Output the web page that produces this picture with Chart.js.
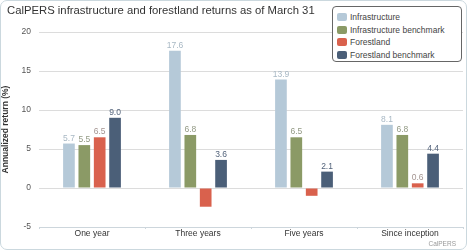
<!DOCTYPE html>
<html>
<head>
<meta charset="utf-8">
<script src="https://cdn.jsdelivr.net/npm/chart.js@4/dist/chart.umd.min.js"></script>
<style>
  html, body { margin: 0; padding: 0; background: #fff; }
  #wrap {
    position: relative; width: 467px; height: 250px; box-sizing: border-box;
    border: 1px solid #cbd8de; border-radius: 7px; overflow: hidden; background: #fff;
    font-family: "Liberation Sans", Arial, sans-serif;
  }
  #chart { position: absolute; left: 0; top: 0; }
  #title {
    position: absolute; left: 6px; top: 3px; font-size: 11.3px; color: #333; white-space: nowrap;
  }
  #legend {
    position: absolute; left: 331px; top: 5px; width: 130px; height: 56px; box-sizing: border-box;
    border: 1px solid #666; border-radius: 4px; background: #fff; padding: 4px 0 0 4px;
  }
  .item { display: flex; align-items: center; height: 12.5px; font-size: 8.5px; color: #444; white-space: nowrap; }
  .sw { width: 10px; height: 8px; border-radius: 2px; margin-right: 3px; }
  #credit { position: absolute; right: 10px; bottom: 2px; font-size: 6.5px; color: #999; }
</style>
</head>
<body>
<div id="wrap">
  <canvas id="chart" width="467" height="250"></canvas>
  <div id="title">CalPERS infrastructure and forestland returns as of March 31</div>
  <div id="legend"></div>
  <div id="credit">CalPERS</div>
</div>
<script>
const categories = ['One year', 'Three years', 'Five years', 'Since inception'];
const seriesNames = ['Infrastructure', 'Infrastructure benchmark', 'Forestland', 'Forestland benchmark'];
const infrastructure = [5.7, 17.6, 13.9, 8.1];
const infrastructureBenchmark = [5.5, 6.8, 6.5, 6.8];
const forestland = [6.5, -2.4, -1.0, 0.6];
const forestlandBenchmark = [9.0, 3.6, 2.1, 4.4];
const colors = ['#b5c9d8', '#8b9a66', '#d9614d', '#4b5f78'];
const labelColors = ['#a8b8c4', '#939a85', '#a39490', '#52627a'];

const allSeries = [infrastructure, infrastructureBenchmark, forestland, forestlandBenchmark];
const fontFamily = '"Liberation Sans", Arial, sans-serif';

// legend
const legend = document.getElementById('legend');
seriesNames.forEach((name, i) => {
  const row = document.createElement('div');
  row.className = 'item';
  row.innerHTML = '<span class="sw" style="background:' + colors[i] + '"></span>' + name;
  legend.appendChild(row);
});

// value labels above positive bars
const valueLabels = {
  id: 'valueLabels',
  afterDatasetsDraw(chart) {
    const ctx = chart.ctx;
    ctx.save();
    ctx.font = '8.5px ' + fontFamily;
    ctx.textAlign = 'center';
    ctx.textBaseline = 'bottom';
    chart.data.datasets.forEach((ds, i) => {
      chart.getDatasetMeta(i).data.forEach((bar, j) => {
        const v = ds.data[j];
        if (v <= 0) return;
        ctx.fillStyle = labelColors[i];
        ctx.fillText(v.toFixed(1), bar.x, bar.y - 1);
      });
    });
    ctx.restore();
  }
};

new Chart(document.getElementById('chart'), {
  type: 'bar',
  data: {
    labels: categories,
    datasets: allSeries.map((d, i) => ({
      label: seriesNames[i],
      data: d,
      backgroundColor: colors[i],
      categoryPercentage: 0.58,
      barPercentage: 0.76
    }))
  },
  options: {
    responsive: false,
    animation: false,
    layout: { padding: { top: 31, right: 5, bottom: 0, left: 0 } },
    plugins: { legend: { display: false }, tooltip: { enabled: false } },
    scales: {
      y: {
        min: -5, max: 20,
        ticks: { stepSize: 5, padding: 8, color: '#555', font: { size: 8.5, family: fontFamily } },
        grid: { color: '#dcdcdc', drawTicks: false },
        border: { display: false },
        title: { display: true, text: 'Annualized return (%)', color: '#333', padding: { top: 0, bottom: 4 },
                 font: { size: 8.5, weight: 'bold', family: fontFamily } },
        afterFit(scale) { scale.width = 38; }
      },
      x: {
        grid: { display: true, drawOnChartArea: false, tickLength: 2, color: '#cdd6dc', offset: true },
        border: { color: '#cdd6dc' },
        ticks: { color: '#333', padding: 0, font: { size: 8.5, family: fontFamily } },
        afterFit(scale) { scale.height = 24; }
      }
    }
  },
  plugins: [valueLabels]
});
</script>
</body>
</html>
